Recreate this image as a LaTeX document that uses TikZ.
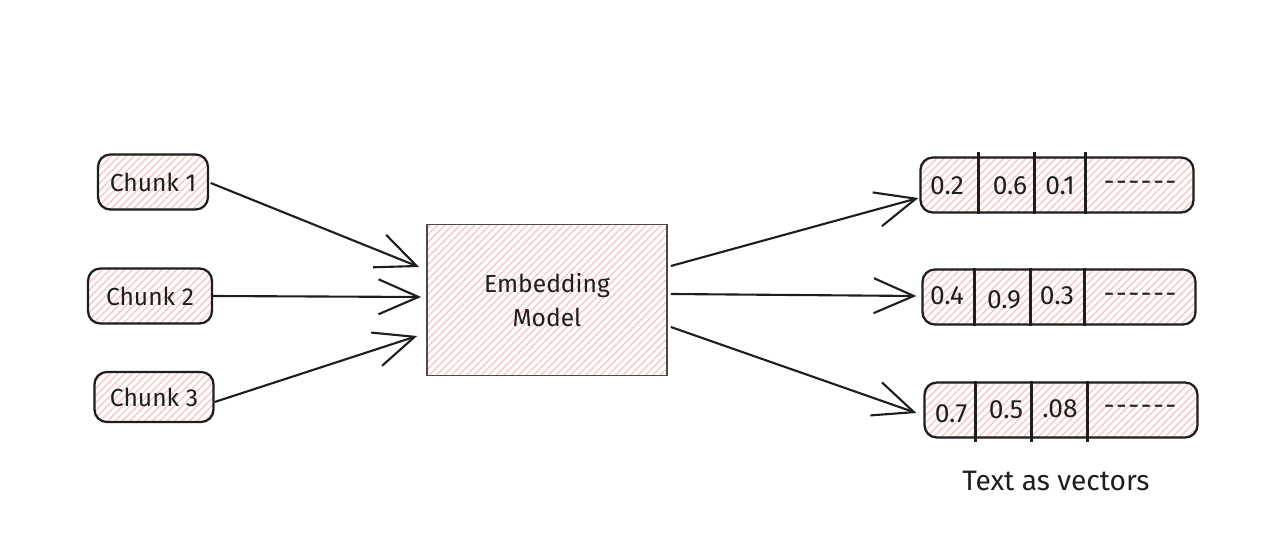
\documentclass[tikz,border=0pt]{standalone}
\usepackage{fontspec}
\setmainfont{Fira Sans}
\usetikzlibrary{arrows.meta,calc,patterns.meta,positioning}
\definecolor{ink}{HTML}{1E1E1E}
\definecolor{frame}{HTML}{4A4A4A}
\definecolor{hatch}{HTML}{F8C8C8}
\newcommand\dashrow{-\kern1pt-\kern1pt-\kern1pt-\kern1pt-\kern1pt-}
\tikzset{
  hatchfill/.style={pattern={Lines[angle=45,distance=3pt,line width=0.8pt]},pattern color=hatch},
  chunkbox/.style={draw=ink,line width=1.3pt,rounded corners=7pt,hatchfill,minimum height=1.1cm,font=\fontsize{14}{17}\selectfont,text=ink},
  modelbox/.style={draw=frame,line width=1pt,hatchfill,minimum width=4.8cm,minimum height=3.02cm,align=center,font=\fontsize{14}{19}\selectfont,text=ink},
  vecbox/.style={draw=ink,line width=1.3pt,rounded corners=7pt,hatchfill,minimum width=5.46cm,minimum height=1.1cm},
  cellline/.style={draw=ink,line width=1.3pt},
  numtext/.style={font=\fontsize{15}{18}\selectfont,text=ink,inner sep=1pt},
  captiontext/.style={font=\fontsize{16}{19}\selectfont,text=ink},
  arrow/.style={-{Straight Barb[length=8mm,width=7mm]},line width=1.2pt,draw=ink}
}
\begin{document}
\begin{tikzpicture}[x=0.02cm,y=-0.02cm]
  \useasboundingbox[fill=white] (0,0) rectangle (1280,536);

  % inputs
  \node[chunkbox,minimum width=2.2cm] (c1) at (153,182) {Chunk 1};
  \node[chunkbox,minimum width=2.48cm] (c2) at (150,296) {Chunk 2};
  \node[chunkbox,minimum width=2.38cm,minimum height=1.0cm] (c3) at (154,397) {Chunk 3};

  % model
  \node[modelbox] (em) at (547,300) {Embedding\\Model};

  % vectors
  \node[vecbox] (v1) at (1057,185) {};
  \node[vecbox] (v2) at (1059,297) {};
  \node[vecbox] (v3) at (1061,410) {};
  \foreach \d in {59,115,166} {
    \draw[cellline] ($(v1.north west)+(\d,-4)$) -- ($(v1.south west)+(\d,0)$);
  }
  \foreach \d in {53,109,163} {
    \draw[cellline] ($(v2.north west)+(\d,0)$) -- ($(v2.south west)+(\d,0)$);
  }
  \foreach \d in {52,108,164} {
    \draw[cellline] ($(v3.north west)+(\d,0)$) -- ($(v3.south west)+(\d,3)$);
  }
  \node[numtext] (v1a) at (947,186) {0.2};
  \node[numtext] (v1b) at (1010,186) {0.6};
  \node[numtext] (v1c) at (1060,186) {0.1};
  \node[numtext] (v1d) at (1140,186) {\dashrow};
  \node[numtext] (v2a) at (947,296) {0.4};
  \node[numtext] (v2b) at (1004,300) {0.9};
  \node[numtext] (v2c) at (1057,296) {0.3};
  \node[numtext] (v2d) at (1140,298) {\dashrow};
  \node[numtext] (v3a) at (951,414) {0.7};
  \node[numtext] (v3b) at (1006,410) {0.5};
  \node[numtext] (v3c) at (1060,409) {.08};
  \node[numtext] (v3d) at (1140,410) {\dashrow};
  \node[captiontext] (cap) at (1056,481) {Text as vectors};

  % connectors
  \draw[arrow] ($(c1.east)+(2,1)$) -- ($(em.west)+(-7,-33)$);
  \draw[arrow] (c2.east) -- ($(em.west)+(-5,-3)$);
  \draw[arrow] ($(c3.east)+(0,5)$) -- ($(em.west)+(-9,36)$);
  \draw[arrow] ($(em.east)+(3,-34)$) -- ($(v1.west)+(-1,13)$);
  \draw[arrow] ($(em.east)+(3,-6)$) -- ($(v2.west)+(-5,-1)$);
  \draw[arrow] ($(em.east)+(3,27)$) -- ($(v3.west)+(-7,3)$);
\end{tikzpicture}
\end{document}
